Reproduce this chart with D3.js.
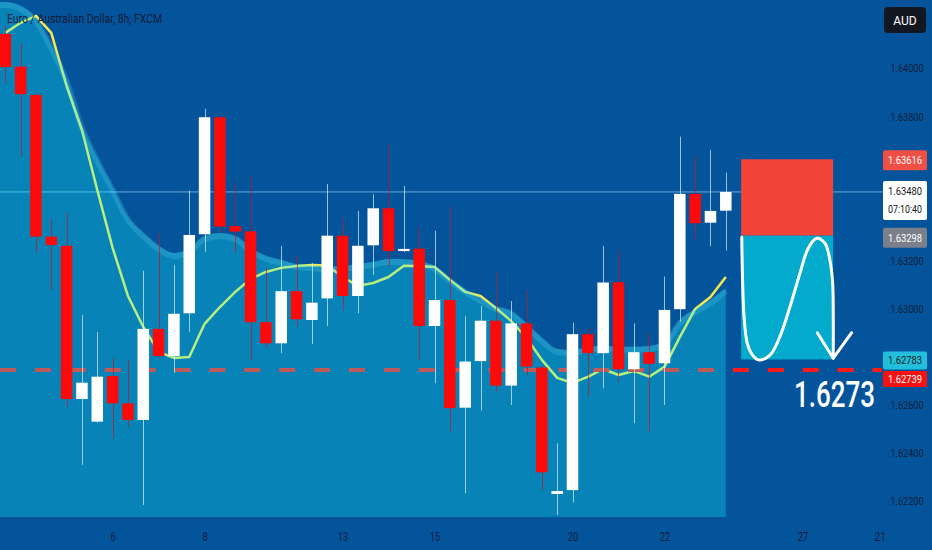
<!DOCTYPE html>
<html><head><meta charset="utf-8">
<script src="https://cdn.jsdelivr.net/npm/d3@7"></script>
<style>html,body{margin:0;padding:0;background:#04549b;overflow:hidden}</style>
</head><body><svg id="c" width="932" height="550"></svg>
<script>
const title = "Euro / Australian Dollar, 8h, FXCM";
const opens  = [1.64138,1.64002,1.63884,1.63294,1.63256,1.62618,1.62524,1.62714,1.62600,1.62531,1.62910,1.62797,1.62975,1.63304,1.63791,1.63338,1.63316,1.62938,1.62850,1.63067,1.62947,1.63037,1.63298,1.63047,1.63258,1.63412,1.63234,1.63244,1.62922,1.63030,1.62582,1.62776,1.62944,1.62674,1.62933,1.62749,1.62223,1.62239,1.62888,1.62809,1.63104,1.62742,1.62813,1.62767,1.62992,1.63472,1.63352,1.63402];
const highs  = [1.64171,1.64100,1.63890,1.63368,1.63394,1.62968,1.62897,1.62789,1.62781,1.63152,1.63309,1.63176,1.63485,1.63826,1.63795,1.63517,1.63544,1.63164,1.63256,1.63215,1.63184,1.63513,1.63375,1.63401,1.63470,1.63679,1.63505,1.63336,1.63318,1.63419,1.62964,1.63005,1.63146,1.63026,1.63069,1.62755,1.62434,1.62936,1.62915,1.63255,1.63234,1.62933,1.62892,1.63127,1.63710,1.63630,1.63655,1.63560];
const lows   = [1.63934,1.63626,1.63226,1.63072,1.62586,1.62344,1.62520,1.62452,1.62503,1.62177,1.62789,1.62727,1.62898,1.63231,1.63309,1.63226,1.62781,1.62831,1.62809,1.62919,1.62847,1.62922,1.62986,1.62975,1.63135,1.63169,1.63230,1.62781,1.62684,1.62482,1.62226,1.62570,1.62649,1.62593,1.62718,1.62239,1.62135,1.62187,1.62628,1.62663,1.62690,1.62517,1.62482,1.62593,1.62940,1.63283,1.63255,1.63236];
const closes = [1.64000,1.63887,1.63294,1.63259,1.62618,1.62686,1.62711,1.62600,1.62531,1.62910,1.62797,1.62973,1.63301,1.63791,1.63336,1.63315,1.62938,1.62850,1.63067,1.62950,1.63019,1.63298,1.63047,1.63256,1.63412,1.63234,1.63243,1.62922,1.63030,1.62580,1.62774,1.62944,1.62674,1.62933,1.62753,1.62313,1.62235,1.62888,1.62809,1.63103,1.62742,1.62813,1.62765,1.62989,1.63472,1.63350,1.63401,1.63480];
const maLine = [1.64142,1.64184,1.64213,1.64142,1.63921,1.63738,1.63488,1.63247,1.63047,1.62918,1.62814,1.62789,1.62793,1.62931,1.63001,1.63064,1.63118,1.63147,1.63164,1.63172,1.63176,1.63174,1.63126,1.63089,1.63101,1.63126,1.63173,1.63172,1.63168,1.63114,1.63064,1.63047,1.62997,1.62943,1.62872,1.62781,1.62706,1.62685,1.62710,1.62743,1.62718,1.62735,1.62711,1.62752,1.62876,1.62993,1.63043,1.63126];
const bandTop = [1.64271,1.64254,1.64204,1.64092,1.63955,1.63759,1.63622,1.63501,1.63376,1.63309,1.63255,1.63226,1.63243,1.63297,1.63309,1.63297,1.63247,1.63214,1.63197,1.63180,1.63176,1.63170,1.63172,1.63180,1.63189,1.63201,1.63200,1.63193,1.63172,1.63122,1.63076,1.63039,1.63005,1.62985,1.62931,1.62872,1.62826,1.62822,1.62835,1.62839,1.62837,1.62836,1.62839,1.62860,1.62947,1.62993,1.63030,1.63080];
const priceTicks = [1.640,1.638,1.632,1.630,1.626,1.624,1.622];
const dateTickIdx = [7,13,22,28,37,43,52,57.5];
const dateTickLabels = ["6","8","13","15","20","22","27","21:00"];
const lastPrice = 1.63480, lastTime = "07:10:40";
const stopPrice = 1.63616, entryPrice = 1.63298, targetPrice = 1.62783, levelPrice = 1.62739;
const levelText = "1.6273";
const boxStartIdx = 48, boxEndIdx = 54;
const curveIdx   = [48.04,48.10,48.19,48.40,48.69,49.12,49.88,50.53,51.19,51.84,52.38,52.93,53.47,53.79,53.97,54.01,54.01];
const curvePrice = [1.63291,1.63100,1.62961,1.62850,1.62806,1.62781,1.62801,1.62878,1.63003,1.63142,1.63246,1.63287,1.63266,1.63197,1.63100,1.62961,1.62788];
const arrowIdx   = [52.97,54.01,55.21];
const arrowPrice = [1.62894,1.62788,1.62894];

const W=932,H=550, plotR=883, plotB=517;
const svg=d3.select("#c");
const x=d3.scaleLinear().domain([0,47]).range([5.3,725.8]);
const y=d3.scaleLinear().domain([1.62127,1.64279]).range([plotB,0]);
const fnt="Roboto, 'Open Sans', sans-serif";
const txtCol="#0c1c38";

svg.append("rect").attr("width",W).attr("height",H).attr("fill","#04549b");
svg.append("defs").append("clipPath").attr("id","pc").append("rect").attr("width",plotR).attr("height",plotB);
const g=svg.append("g").attr("clip-path","url(#pc)");

// last price line
g.append("line").attr("x1",0).attr("x2",plotR).attr("y1",y(lastPrice)).attr("y2",y(lastPrice))
  .attr("stroke","#8cc0ee").attr("stroke-opacity",0.75).attr("stroke-width",1);

// moving average
g.append("path").datum(maLine).attr("fill","none").attr("stroke","#f4ea4e").attr("stroke-width",2.5)
  .attr("stroke-linejoin","round")
  .attr("d",d3.line().x((d,i)=>x(i)).y(d=>y(d)));

// red dashed level
g.append("line").attr("x1",0).attr("x2",plotR-1).attr("y1",y(levelPrice)).attr("y2",y(levelPrice))
  .attr("stroke","#ff1a1a").attr("stroke-width",4).attr("stroke-dasharray","16 18.9");

// area
const areaData = bandTop.map((v,i)=>[i,v]);
areaData.unshift([x.invert(0),bandTop[0]]);
g.append("path").datum(areaData).attr("fill","rgb(23,255,255)").attr("fill-opacity",0.28)
  .attr("d",d3.area().curve(d3.curveMonotoneX).x(d=>x(d[0])).y0(plotB).y1(d=>y(d[1])));
g.append("path").datum(areaData).attr("fill","none").attr("stroke","rgb(110,225,255)").attr("stroke-opacity",0.2)
  .attr("stroke-width",6).attr("transform","translate(0,3)")
  .attr("d",d3.line().curve(d3.curveMonotoneX).x(d=>x(d[0])).y(d=>y(d[1])));

// candles
const idx=d3.range(opens.length);
const up=i=>closes[i]>=opens[i];
g.selectAll(".wick").data(idx).join("line").attr("class","wick")
  .attr("x1",i=>Math.round(x(i))+0.5).attr("x2",i=>Math.round(x(i))+0.5)
  .attr("y1",i=>y(highs[i])).attr("y2",i=>y(lows[i]))
  .attr("stroke",i=>up(i)?"#d8f2ff":"#c0182a").attr("stroke-opacity",0.7).attr("stroke-width",1);
const bw=11.5;
g.selectAll(".body").data(idx).join("rect").attr("class","body")
  .attr("x",i=>x(i)-bw/2).attr("width",bw)
  .attr("y",i=>y(Math.max(opens[i],closes[i])))
  .attr("height",i=>Math.max(2,Math.abs(y(opens[i])-y(closes[i]))))
  .attr("fill",i=>up(i)?"#ffffff":"#fb0a0a");

// position boxes
g.append("rect").attr("x",x(boxStartIdx)).attr("width",x(boxEndIdx)-x(boxStartIdx))
  .attr("y",y(stopPrice)).attr("height",y(entryPrice)-y(stopPrice)).attr("fill","#f3443a");
g.append("rect").attr("x",x(boxStartIdx)).attr("width",x(boxEndIdx)-x(boxStartIdx))
  .attr("y",y(entryPrice)).attr("height",y(targetPrice)-y(entryPrice)).attr("fill","#04aacb");

// drawn curve + arrow
g.append("path").datum(curveIdx.map((d,i)=>[d,curvePrice[i]])).attr("fill","none")
  .attr("stroke","#fff").attr("stroke-width",3).attr("stroke-linecap","round")
  .attr("d",d3.line().curve(d3.curveCatmullRom).x(d=>x(d[0])).y(d=>y(d[1])));
g.append("path").datum(arrowIdx.map((d,i)=>[d,arrowPrice[i]])).attr("fill","none")
  .attr("stroke","#fff").attr("stroke-width",3).attr("stroke-linecap","round").attr("stroke-linejoin","round")
  .attr("d",d3.line().x(d=>x(d[0])).y(d=>y(d[1])));

// level text (horizontally condensed via scale so its box matches what is drawn)
const lt=g.append("text").attr("x",0).attr("y",0).text(levelText)
  .attr("fill","#fff").attr("font-family",fnt).attr("font-size",37).attr("font-weight",500);
const natW=lt.node().getComputedTextLength()||113;
lt.attr("transform",`translate(${x(51.45)},${y(1.62585)}) scale(${81/natW},1)`);

// title
svg.append("text").attr("x",7).attr("y",23).text(title).attr("fill",txtCol).attr("font-family",fnt)
  .attr("font-size",13).attr("textLength",155).attr("lengthAdjust","spacingAndGlyphs");

// date axis
const dax=svg.append("g").attr("transform",`translate(0,${plotB})`)
  .call(d3.axisBottom(x).tickValues(dateTickIdx).tickSize(0).tickPadding(15)
  .tickFormat((d,i)=>dateTickLabels[i]));
dax.select(".domain").remove();
dax.selectAll("text").attr("fill",txtCol).attr("font-family",fnt).attr("font-size",12)
  .each(function(){const t=d3.select(this);const L=t.text().length;t.attr("textLength",L*5.2).attr("lengthAdjust","spacingAndGlyphs");});

// price axis column
svg.append("rect").attr("x",plotR+1).attr("width",W-plotR-1).attr("height",H).attr("fill","#04549b");
const pax=svg.append("g").attr("transform","translate(907,0)")
  .call(d3.axisRight(y).tickValues(priceTicks).tickSize(0).tickPadding(0).tickFormat(d3.format(".5f")));
pax.select(".domain").remove();
pax.attr("text-anchor","middle");
pax.selectAll("text").attr("fill",txtCol).attr("font-family",fnt).attr("font-size",11)
  .attr("text-anchor","middle").attr("dy","0.45em")
  .attr("textLength",33).attr("lengthAdjust","spacingAndGlyphs");

function tag(top,h,bg,fg,lines,fs){
  svg.append("rect").attr("x",883).attr("y",top).attr("width",44).attr("height",h).attr("rx",2).attr("fill",bg);
  lines.forEach((s,k)=>{
    svg.append("text").attr("x",905).attr("y",top+h/2+4+(lines.length>1?(k*18-9):0)).text(s).attr("text-anchor","middle")
      .attr("fill",fg).attr("font-family",fnt).attr("font-size",fs||11.5)
      .attr("textLength",34).attr("lengthAdjust","spacingAndGlyphs");
  });
}
const f5=d3.format(".5f");
tag(y(stopPrice)-9,20,"#ef4f45","#fff",[f5(stopPrice)]);
tag(y(lastPrice)-11,39,"#ffffff","#131722",[f5(lastPrice),lastTime]);
tag(y(entryPrice)-8,20,"#7b7f8c","#fff",[f5(entryPrice)]);
tag(y(targetPrice)-8,18,"#20bfdc","#131722",[f5(targetPrice)]);
tag(y(levelPrice)+1,16,"#f81212","#fff",[f5(levelPrice)],10.5);

// currency badge
svg.append("rect").attr("x",884).attr("y",7).attr("width",42).attr("height",26).attr("rx",4).attr("fill","#131722");
svg.append("text").attr("x",905).attr("y",24.5).text("AUD").attr("text-anchor","middle").attr("fill","#fff")
  .attr("font-family",fnt).attr("font-size",12);
</script></body></html>
